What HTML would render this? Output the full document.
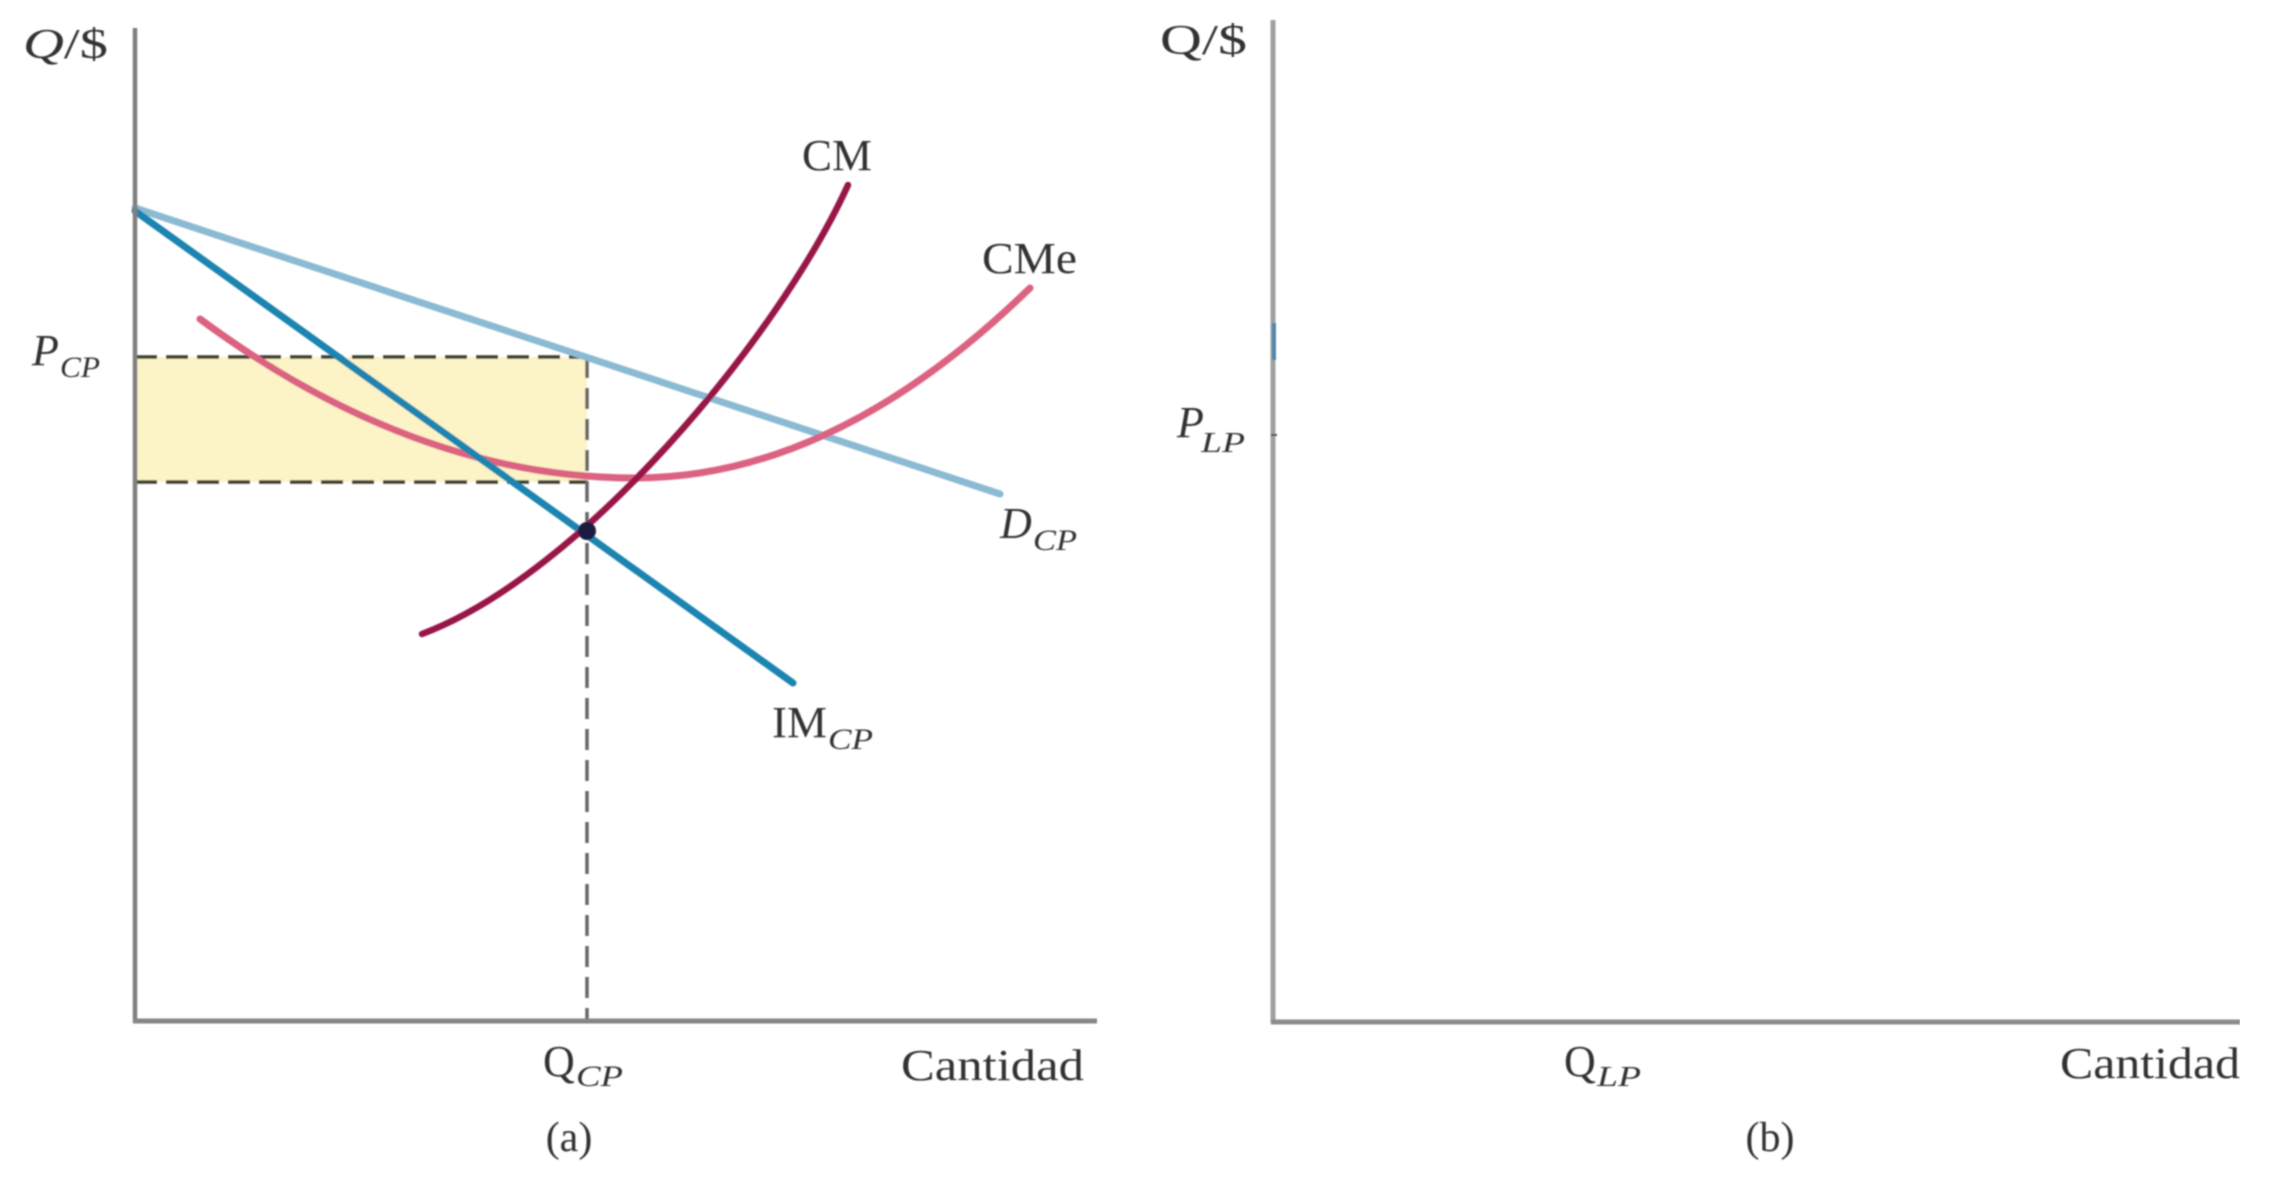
<!DOCTYPE html>
<html>
<head>
<meta charset="utf-8">
<style>
  html, body { margin: 0; padding: 0; background: #ffffff; }
  svg { display: block; }
  text { font-family: "Liberation Serif", serif; fill: #333333; }
</style>
</head>
<body>
<svg width="2274" height="1182" viewBox="0 0 2274 1182" xmlns="http://www.w3.org/2000/svg">
  <rect x="0" y="0" width="2274" height="1182" fill="#ffffff"/>
  <defs>
    <filter id="soft" x="0" y="0" width="100%" height="100%">
      <feGaussianBlur stdDeviation="0.8"/>
    </filter>
  </defs>
  <g filter="url(#soft)">

  <!-- ===== Panel (a) ===== -->
  <!-- profit rectangle -->
  <rect x="137" y="357" width="450" height="125" fill="#fcf3c6"/>

  <!-- dashed guides -->
  <line x1="135" y1="357" x2="587" y2="357" stroke="#3e3d33" stroke-width="3.5" stroke-dasharray="22 9"/>
  <line x1="135" y1="482" x2="587" y2="482" stroke="#3e3d33" stroke-width="3.5" stroke-dasharray="22 9"/>
  <line x1="587" y1="357" x2="587" y2="1020" stroke="#666666" stroke-width="3.5" stroke-dasharray="21 10"/>

  <!-- Demand D_CP -->
  <line x1="135" y1="208" x2="1000" y2="494" stroke="#8bbad3" stroke-width="7" stroke-linecap="round"/>

  <!-- CMe (average cost) -->
  <path d="M200,319 Q415,478 635,478 Q835,478 1030,288" fill="none" stroke="#dc6281" stroke-width="7" stroke-linecap="round"/>

  <!-- IM_CP (marginal revenue) -->
  <line x1="135" y1="211" x2="793" y2="683" stroke="#1a84b0" stroke-width="7" stroke-linecap="round"/>

  <!-- CM (marginal cost) -->
  <path d="M422,634 C580,575 778,339 848,185" fill="none" stroke="#981446" stroke-width="6.5" stroke-linecap="round"/>

  <!-- equilibrium dot -->
  <circle cx="587" cy="531" r="9" fill="#1b1b42"/>

  <!-- axes (a) -->
  <line x1="135" y1="28" x2="135" y2="1022" stroke="#7f7f7f" stroke-width="4.5"/>
  <line x1="133" y1="1021" x2="1097" y2="1021" stroke="#868686" stroke-width="5"/>

  <!-- labels (a) -->
  <text x="23" y="58" font-size="42" textLength="85" lengthAdjust="spacingAndGlyphs"><tspan font-style="italic">Q</tspan>/$</text>
  <text x="32" y="365" font-size="44" font-style="italic">P</text>
  <text x="60" y="377" font-size="30" font-style="italic" textLength="40" lengthAdjust="spacingAndGlyphs">CP</text>

  <text x="802" y="170" font-size="44" textLength="70" lengthAdjust="spacingAndGlyphs">CM</text>
  <text x="982" y="273" font-size="44" textLength="95" lengthAdjust="spacingAndGlyphs">CMe</text>

  <text x="1000" y="538" font-size="44" font-style="italic">D</text>
  <text x="1033" y="550" font-size="30" font-style="italic" textLength="44" lengthAdjust="spacingAndGlyphs">CP</text>

  <text x="772" y="737" font-size="44" textLength="55" lengthAdjust="spacingAndGlyphs">IM</text>
  <text x="828" y="749" font-size="30" font-style="italic" textLength="45" lengthAdjust="spacingAndGlyphs">CP</text>

  <text x="543" y="1076" font-size="44">Q</text>
  <text x="576" y="1086" font-size="30" font-style="italic" textLength="47" lengthAdjust="spacingAndGlyphs">CP</text>

  <text x="901" y="1080" font-size="44" textLength="183" lengthAdjust="spacingAndGlyphs">Cantidad</text>
  <text x="569" y="1151" font-size="42" text-anchor="middle">(a)</text>

  <!-- ===== Panel (b) ===== -->
  <line x1="1273" y1="20" x2="1273" y2="1023" stroke="#a0a0a0" stroke-width="5"/>
  <line x1="1271" y1="1022" x2="2240" y2="1022" stroke="#8c8c8c" stroke-width="5"/>
  <!-- small blue mark on axis -->
  <line x1="1274" y1="323" x2="1274" y2="360" stroke="#4f87ad" stroke-width="4"/>
  <line x1="1271" y1="435" x2="1277" y2="435" stroke="#555555" stroke-width="2"/>

  <text x="1160" y="54" font-size="42" textLength="87" lengthAdjust="spacingAndGlyphs">Q/$</text>
  <text x="1177" y="437" font-size="44" font-style="italic">P</text>
  <text x="1201" y="452" font-size="28" font-style="italic" textLength="44" lengthAdjust="spacingAndGlyphs">LP</text>

  <text x="1564" y="1076" font-size="44">Q</text>
  <text x="1597" y="1086" font-size="28" font-style="italic" textLength="44" lengthAdjust="spacingAndGlyphs">LP</text>

  <text x="2060" y="1078" font-size="44" textLength="180" lengthAdjust="spacingAndGlyphs">Cantidad</text>
  <text x="1770" y="1151" font-size="42" text-anchor="middle">(b)</text>
  </g>
</svg>
</body>
</html>
